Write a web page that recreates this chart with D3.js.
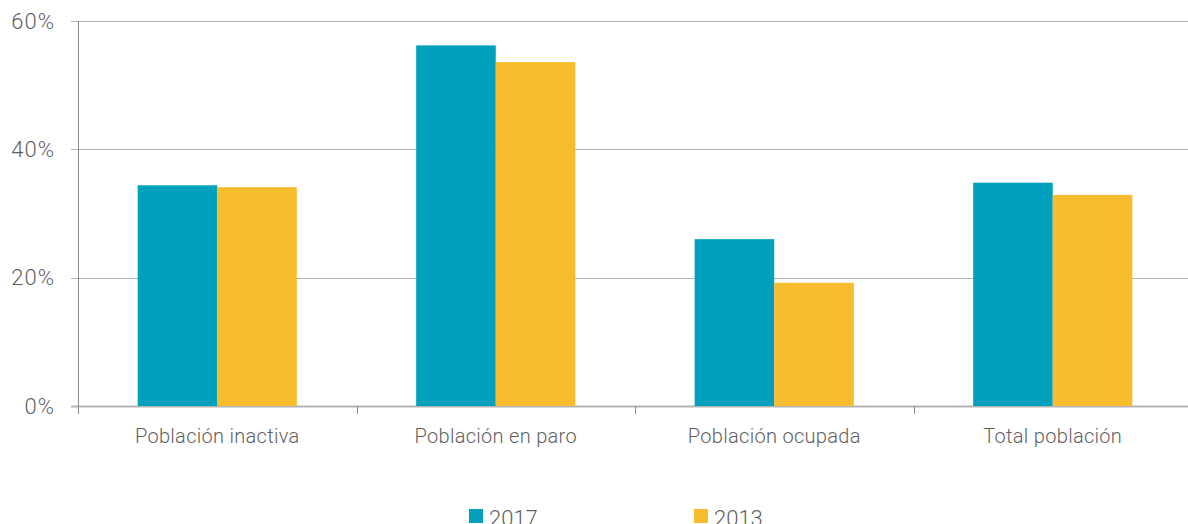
<!DOCTYPE html>
<html>
<head>
<meta charset="utf-8">
<script src="https://cdn.jsdelivr.net/npm/d3@7"></script>
<style>
	body { margin: 0; background: #fff; }
	text { font-family: Roboto, "Noto Sans", sans-serif; fill: #5f5f5f; font-weight: 300; }
</style>
</head>
<body>
<div id="chart"></div>
<script>
// categories along the x axis
var categories = ["Población inactiva", "Población en paro", "Población ocupada", "Total población"];

// series names and values (percent)
var seriesNames = ["2017", "2013"];
var values2017 = [34.4, 56.2, 26.0, 34.8];
var values2013 = [34.1, 53.6, 19.2, 32.9];

// y axis ticks
var yTicks = [0, 20, 40, 60];

var colors = ["#01a0bd", "#f8bd2f"];

/**
 * renders the bar chart
 */
function renderChart(container)
{
	var width = 1188, height = 524;
	var left = 78, right = 1192, top = 21, bottom = 406;

	var svg = d3.select(container).append("svg")
		.attr("width", width)
		.attr("height", height);

	var x = d3.scaleBand()
		.domain(categories)
		.range([left, right]);

	// the two bars of a group sit in the middle of the band
	var xInner = d3.scaleBand()
		.domain(seriesNames)
		.range([0, x.bandwidth()])
		.paddingOuter(0.75)
		.paddingInner(0);

	var y = d3.scaleLinear()
		.domain([0, 60])
		.range([bottom, top]);

	// gridlines
	svg.append("g")
		.selectAll("line")
		.data(yTicks)
		.join("line")
			.attr("x1", left - 7)
			.attr("x2", width)
			.attr("y1", function(d) { return Math.round(y(d)) + 0.5; })
			.attr("y2", function(d) { return Math.round(y(d)) + 0.5; })
			.attr("stroke", "#b4b4b4")
			.attr("stroke-width", function(d) { return d === 0 ? 2 : 1; });

	// y axis labels
	svg.append("g")
		.selectAll("text")
		.data(yTicks)
		.join("text")
			.attr("x", 55)
			.attr("y", function(d) { return y(d); })
			.attr("dy", ".35em")
			.attr("text-anchor", "end")
			.attr("font-size", 22)
			.attr("letter-spacing", 1)
			.text(function(d) { return d + "%"; });

	// bars
	var series = [values2017, values2013];
	series.forEach(function(vals, s)
	{
		svg.append("g")
			.selectAll("rect")
			.data(vals)
			.join("rect")
				.attr("x", function(d, i) { return x(categories[i]) + xInner(seriesNames[s]); })
				.attr("width", xInner.bandwidth())
				.attr("y", function(d) { return y(d); })
				.attr("height", function(d) { return y(0) - y(d); })
				.attr("fill", colors[s]);
	});

	// vertical axis line
	svg.append("line")
		.attr("x1", left + 0.5).attr("x2", left + 0.5)
		.attr("y1", top).attr("y2", bottom + 8)
		.attr("stroke", "#8c8c8c");

	// category separator ticks
	svg.append("g")
		.selectAll("line")
		.data(categories.slice(1))
		.join("line")
			.attr("x1", function(d) { return Math.round(x(d)) + 0.5; })
			.attr("x2", function(d) { return Math.round(x(d)) + 0.5; })
			.attr("y1", bottom)
			.attr("y2", bottom + 8)
			.attr("stroke", "#8c8c8c");

	// category labels
	svg.append("g")
		.selectAll("text")
		.data(categories)
		.join("text")
			.attr("x", function(d) { return x(d) + x.bandwidth() / 2; })
			.attr("y", 443)
			.attr("text-anchor", "middle")
			.attr("font-size", 20)
			.attr("letter-spacing", 0.3)
			.text(function(d) { return d; });

	// legend
	var legendX = [469, 694];
	var legend = svg.append("g")
		.selectAll("g")
		.data(seriesNames)
		.join("g")
			.attr("transform", function(d, i) { return "translate(" + legendX[i] + ",0)"; });

	legend.append("rect")
		.attr("x", 0).attr("y", 509)
		.attr("width", 14).attr("height", 14)
		.attr("fill", function(d, i) { return colors[i]; });

	legend.append("text")
		.attr("x", 20)
		.attr("y", 526)
		.attr("font-size", 22)
		.text(function(d) { return d; });
}

renderChart("#chart");
</script>
</body>
</html>
